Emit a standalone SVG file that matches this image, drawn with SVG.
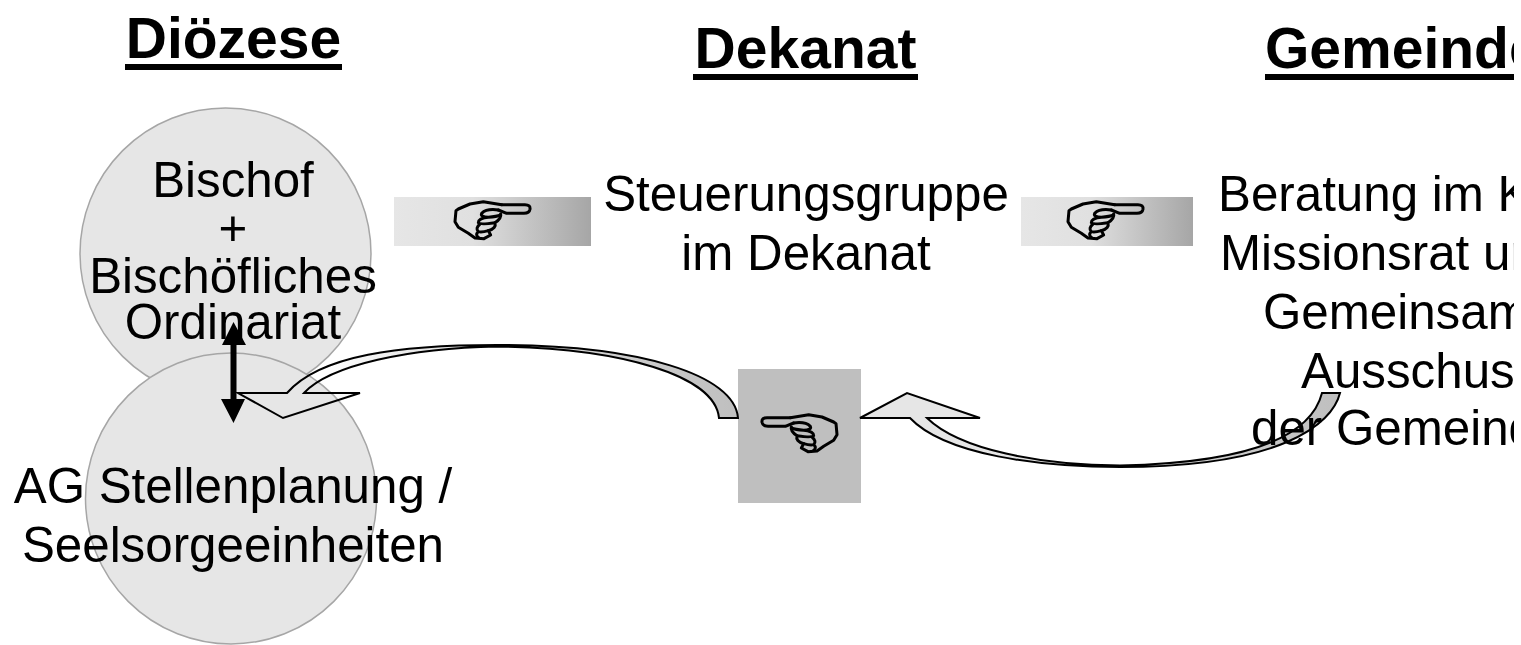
<svg xmlns="http://www.w3.org/2000/svg" width="1521" height="645" viewBox="0 0 1521 645">
<style>
text{font-family:"Liberation Sans",Arial,sans-serif;fill:#000;text-anchor:middle}
.h{font-size:57px;font-weight:bold}
.t{font-size:49.3px}
.s{text-anchor:start}
.c{fill:#e6e6e6;stroke:#a6a6a6;stroke-width:1.5}
.a{stroke:#000;stroke-width:2;stroke-linejoin:miter}
.hand path{fill:none;stroke:#000;stroke-width:9;stroke-linejoin:round;stroke-linecap:round}
</style>
<defs>
<linearGradient id="g"><stop offset="0" stop-color="#e6e6e6"/><stop offset=".4" stop-color="#e0e0e0"/><stop offset="1" stop-color="#a6a6a6"/></linearGradient>
<linearGradient id="gl" gradientUnits="userSpaceOnUse" x1="738" y1="0" x2="290" y2="0"><stop offset="0" stop-color="#bfbfbf"/><stop offset=".7" stop-color="#e6e6e6"/><stop offset=".92" stop-color="#e6e6e6" stop-opacity="0"/></linearGradient>
<linearGradient id="gr" gradientUnits="userSpaceOnUse" x1="1340" y1="0" x2="1000" y2="0"><stop offset="0" stop-color="#bfbfbf"/><stop offset="1" stop-color="#e6e6e6"/></linearGradient>
<clipPath id="clip"><rect x="0" y="0" width="1514" height="645"/></clipPath>
<g id="hand" class="hand">
<path d="M365 74L310 65L270 72L235 87L228 92L225 125L235 142L265 160L285 174L312 176L332 165L325 152Q350 145 345 128Q365 115 362 102"/>
<path d="M365 74H435Q452 74 450 88Q448 100 432 100H380L355 90"/>
<path d="M355 90Q320 85 305 100Q300 110 325 112Q350 110 362 105M325 112Q295 115 295 128Q300 135 345 128M300 132Q285 145 295 155Q305 158 325 152M295 155Q285 165 295 172"/>
</g>
</defs>
<g clip-path="url(#clip)">
<g id="node-bischof"><circle class="c" cx="225.5" cy="253.5" r="145.5"/>
<text class="t" x="233" y="197">Bischof</text><text class="t" x="233" y="245">+</text><text class="t" x="233" y="293">Bischöfliches</text><text class="t" x="233" y="339">Ordinariat</text></g>
<g id="node-ag"><circle class="c" cx="231" cy="498.5" r="145.5"/>
<text class="t" x="233" y="503">AG Stellenplanung /</text><text class="t" x="233" y="562">Seelsorgeeinheiten</text></g>
<g id="node-diozese"><text class="h" x="233.5" y="58">Diözese</text><rect x="125" y="64" width="217" height="6"/></g>
<g id="node-dekanat"><text class="h" x="805.5" y="68">Dekanat</text><rect x="693" y="74" width="225" height="6"/></g>
<g id="node-gemeinde"><text class="h s" x="1265" y="68">Gemeinde</text><rect x="1265" y="74" width="249" height="6"/></g>
<g id="node-steuerung"><text class="t" x="806" y="211">Steuerungsgruppe</text><text class="t" x="806" y="270">im Dekanat</text></g>
<g id="node-hand1"><rect x="394" y="197" width="197" height="49" fill="url(#g)"/><use href="#hand" transform="translate(380 180) scale(.3333)"/></g>
<g id="node-hand2"><rect x="1021" y="197" width="172" height="49" fill="url(#g)"/><use href="#hand" transform="translate(993 180) scale(.3333)"/></g>
<g id="node-hand3"><rect x="738" y="369" width="123" height="134" fill="#bfbfbf"/><use href="#hand" transform="translate(912 393) scale(-.3333 .3333)"/></g>
<g id="connectors">
<path d="M738 418C735 375 640 345 497 345C400 345 320 355 287 393H238L283 418L360 393H304C330 365 410 348 497 346.5C620 348 715 375 719 418Z" fill="url(#gl)" class="a"/>
<path d="M1340 393C1332 425 1280 467 1120 467C1040 467 945 455 910 418H860L907 393L980 418H927C960 450 1040 465 1120 465.5C1240 463 1310 440 1322 393Z" fill="url(#gr)" class="a"/>
<path d="M233.5 322L246 345H236.5V399H245L233.5 423L221 399H230.5V345H222Z" fill="#000"/>
</g>
<g id="node-beratung">
<text class="t s" x="1218" y="211">Beratung im K</text>
<text class="t s" x="1220" y="270">Missionsrat un</text>
<text class="t s" x="1263" y="329">Gemeinsam</text>
<text class="t s" x="1301" y="388">Ausschus</text>
<text class="t s" x="1251" y="445">der Gemeind</text></g>
</g>
</svg>
